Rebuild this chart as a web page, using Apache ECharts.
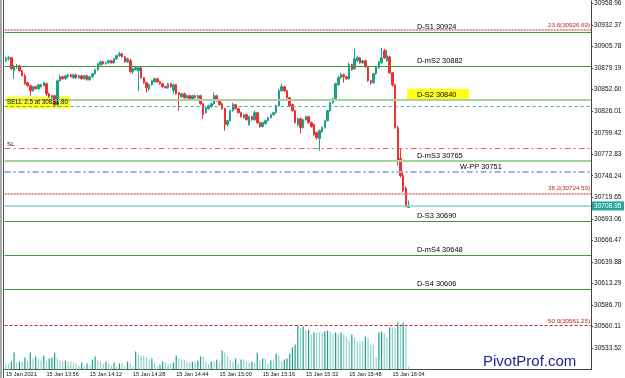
<!DOCTYPE html>
<html lang="en">
<head>
<meta charset="UTF-8">
<title>Pivot levels M1</title>
<script src="https://cdn.jsdelivr.net/npm/echarts@6/dist/echarts.min.js"></script>
<style>
  html, body { margin: 0; padding: 0; background: #fff; }
  #chart { width: 625px; height: 378px; }
</style>
</head>
<body>
<div id="chart"></div>
<script>
// ---- data ----
const opens = [
  30888.2, 30890.7, 30891.9, 30875.9, 30880.8, 30882.0, 30875.9, 30869.7, 30861.1, 30857.4,
  30851.2, 30856.2, 30853.7, 30856.2, 30857.4, 30859.9, 30847.5, 30842.6, 30845.1, 30834.0,
  30863.6, 30868.5, 30866.0, 30868.5, 30870.9, 30867.3, 30870.9, 30867.3, 30869.7, 30866.0,
  30869.7, 30864.8, 30868.5, 30872.2, 30877.1, 30883.3, 30887.0, 30884.5, 30885.7, 30888.2,
  30885.7, 30890.7, 30894.4, 30896.8, 30893.1, 30887.0, 30888.2, 30874.6, 30877.1, 30875.9,
  30879.6, 30867.3, 30861.1, 30853.7, 30858.6, 30862.3, 30866.0, 30862.3, 30859.9, 30856.2,
  30854.9, 30859.9, 30851.2, 30858.6, 30848.8, 30843.8, 30847.5, 30842.6, 30845.1, 30841.4,
  30845.1, 30842.6, 30845.1, 30835.2, 30824.1, 30829.1, 30831.5, 30835.2, 30845.1, 30838.9,
  30835.2, 30829.1, 30809.4, 30814.3, 30826.6, 30834.0, 30829.1, 30824.1, 30818.0, 30821.7,
  30809.4, 30819.2, 30815.5, 30824.1, 30811.8, 30806.9, 30810.6, 30814.3, 30818.0, 30821.7,
  30824.1, 30832.8, 30851.2, 30856.2, 30851.2, 30842.6, 30834.0, 30826.6, 30809.4, 30816.7,
  30805.7, 30815.5, 30819.2, 30811.8, 30809.4, 30799.5, 30792.1, 30800.7, 30805.7, 30814.3,
  30826.6, 30836.5, 30841.4, 30858.6, 30867.3, 30870.9, 30868.5, 30866.0, 30883.3, 30878.3,
  30888.2, 30891.9, 30885.7, 30888.2, 30880.8, 30863.6, 30861.1, 30872.2, 30879.6, 30885.7,
  30900.5, 30888.2, 30893.1, 30873.4, 30858.6, 30805.7, 30767.5, 30746.5, 30730.5, 30707.1
];
const closes = [
  30890.7, 30891.9, 30878.3, 30880.8, 30882.0, 30875.9, 30869.7, 30859.9, 30857.4, 30851.2,
  30856.2, 30853.7, 30858.6, 30858.6, 30861.1, 30847.5, 30843.8, 30845.1, 30834.0, 30863.6,
  30868.5, 30866.0, 30869.7, 30870.9, 30868.5, 30870.9, 30867.3, 30869.7, 30866.0, 30869.7,
  30864.8, 30868.5, 30872.2, 30877.1, 30884.5, 30887.0, 30884.5, 30885.7, 30888.2, 30885.7,
  30890.7, 30894.4, 30896.8, 30893.1, 30887.0, 30890.7, 30874.6, 30878.3, 30879.6, 30879.6,
  30867.3, 30861.1, 30854.9, 30858.6, 30863.6, 30866.0, 30862.3, 30859.9, 30856.2, 30854.9,
  30859.9, 30856.2, 30858.6, 30847.5, 30846.3, 30847.5, 30842.6, 30845.1, 30841.4, 30845.1,
  30842.6, 30845.1, 30835.2, 30821.7, 30830.3, 30832.8, 30835.2, 30845.1, 30838.9, 30834.0,
  30829.1, 30809.4, 30814.3, 30826.6, 30834.0, 30829.1, 30824.1, 30819.2, 30821.7, 30815.5,
  30819.2, 30815.5, 30824.1, 30811.8, 30806.9, 30811.8, 30814.3, 30818.0, 30821.7, 30824.1,
  30832.8, 30851.2, 30856.2, 30851.2, 30842.6, 30832.8, 30826.6, 30811.8, 30816.7, 30805.7,
  30815.5, 30819.2, 30811.8, 30806.9, 30797.0, 30793.3, 30802.0, 30805.7, 30814.3, 30826.6,
  30836.5, 30841.4, 30859.9, 30867.3, 30870.9, 30868.5, 30866.0, 30883.3, 30877.1, 30890.7,
  30891.9, 30885.7, 30888.2, 30880.8, 30863.6, 30861.1, 30872.2, 30880.8, 30887.0, 30891.9,
  30891.9, 30894.4, 30873.4, 30858.6, 30805.7, 30765.0, 30746.5, 30728.1, 30708.3, 30708.95
];
const lows = [
  30887.0, 30888.2, 30877.1, 30866.0, 30878.3, 30874.6, 30868.5, 30858.6, 30856.2, 30845.1,
  30850.0, 30852.5, 30852.5, 30854.9, 30856.2, 30845.1, 30842.6, 30841.4, 30831.5, 30831.5,
  30862.3, 30864.8, 30864.8, 30867.3, 30867.3, 30866.0, 30866.0, 30866.0, 30864.8, 30864.8,
  30863.6, 30863.6, 30867.3, 30870.9, 30875.9, 30882.0, 30883.3, 30883.3, 30884.5, 30884.5,
  30884.5, 30889.4, 30893.1, 30891.9, 30885.7, 30885.7, 30873.4, 30872.2, 30875.9, 30851.2,
  30866.0, 30859.9, 30848.8, 30851.2, 30857.4, 30861.1, 30861.1, 30858.6, 30854.9, 30853.7,
  30853.7, 30854.9, 30847.5, 30846.3, 30826.6, 30842.6, 30841.4, 30841.4, 30840.2, 30840.2,
  30841.4, 30841.4, 30834.0, 30816.7, 30822.9, 30827.8, 30830.3, 30834.0, 30837.7, 30832.8,
  30827.8, 30802.0, 30806.9, 30813.1, 30825.4, 30827.8, 30822.9, 30818.0, 30816.7, 30814.3,
  30808.1, 30814.3, 30814.3, 30810.6, 30805.7, 30805.7, 30809.4, 30813.1, 30816.7, 30820.4,
  30822.9, 30831.5, 30850.0, 30850.0, 30841.4, 30831.5, 30825.4, 30810.6, 30806.9, 30798.3,
  30804.4, 30814.3, 30810.6, 30805.7, 30795.8, 30790.9, 30777.3, 30799.5, 30804.4, 30813.1,
  30825.4, 30835.2, 30840.2, 30857.4, 30866.0, 30861.1, 30864.8, 30864.8, 30875.9, 30877.1,
  30887.0, 30884.5, 30884.5, 30879.6, 30862.3, 30858.6, 30859.9, 30870.9, 30878.3, 30884.5,
  30890.7, 30887.0, 30872.2, 30856.2, 30804.4, 30758.9, 30744.1, 30725.6, 30707.1, 30707.1
];
const highs = [
  30893.1, 30894.4, 30893.1, 30883.3, 30884.5, 30883.3, 30877.1, 30872.2, 30862.3, 30858.6,
  30857.4, 30857.4, 30859.9, 30859.9, 30862.3, 30861.1, 30848.8, 30846.3, 30846.3, 30864.8,
  30870.9, 30869.7, 30870.9, 30872.2, 30872.2, 30872.2, 30872.2, 30870.9, 30870.9, 30870.9,
  30870.9, 30869.7, 30873.4, 30878.3, 30885.7, 30888.2, 30888.2, 30887.0, 30889.4, 30889.4,
  30891.9, 30895.6, 30899.3, 30898.0, 30894.4, 30891.9, 30890.7, 30879.6, 30880.8, 30880.8,
  30880.8, 30868.5, 30862.3, 30859.9, 30864.8, 30867.3, 30867.3, 30863.6, 30861.1, 30857.4,
  30861.1, 30861.1, 30859.9, 30859.9, 30850.0, 30848.8, 30848.8, 30846.3, 30846.3, 30846.3,
  30846.3, 30846.3, 30846.3, 30836.5, 30831.5, 30834.0, 30836.5, 30848.8, 30846.3, 30840.2,
  30836.5, 30830.3, 30815.5, 30827.8, 30836.5, 30835.2, 30830.3, 30825.4, 30822.9, 30822.9,
  30820.4, 30820.4, 30826.6, 30825.4, 30813.1, 30813.1, 30815.5, 30819.2, 30822.9, 30825.4,
  30834.0, 30853.7, 30859.9, 30857.4, 30852.5, 30843.8, 30835.2, 30827.8, 30818.0, 30818.0,
  30816.7, 30820.4, 30820.4, 30813.1, 30810.6, 30800.7, 30803.2, 30806.9, 30815.5, 30827.8,
  30837.7, 30842.6, 30861.1, 30869.7, 30873.4, 30872.2, 30869.7, 30885.7, 30884.5, 30903.0,
  30894.4, 30893.1, 30889.4, 30889.4, 30882.0, 30864.8, 30873.4, 30882.0, 30888.2, 30904.2,
  30903.0, 30901.7, 30894.4, 30874.6, 30859.9, 30808.1, 30779.8, 30752.7, 30733.0, 30715.7
];
const volumes = [
  60, 60, 80, 170, 70, 80, 80, 120, 80, 170,
  110, 130, 110, 90, 140, 80, 110, 120, 170, 120,
  90, 80, 90, 80, 80, 70, 60, 40, 70, 30,
  60, 40, 100, 130, 90, 80, 60, 80, 60, 40,
  70, 30, 60, 60, 30, 80, 60, 30, 180, 150,
  140, 140, 120, 100, 110, 70, 30, 50, 80, 70,
  60, 60, 70, 140, 110, 100, 100, 70, 70, 80,
  80, 90, 130, 130, 80, 50, 80, 80, 100, 70,
  190, 170, 130, 100, 80, 110, 60, 100, 100, 80,
  70, 80, 70, 170, 90, 110, 110, 60, 90, 90,
  160, 140, 80, 100, 110, 160, 220, 250, 440, 410,
  430, 390, 400, 350, 370, 370, 370, 370, 380, 390,
  380, 360, 370, 350, 370, 350, 330, 290, 350, 320,
  280, 280, 280, 330, 320, 250, 250, 120, 370, 380,
  360, 320, 420, 420, 420, 470, 450, 470, 430, 30
];

const firstMinute = 13 * 60 + 41;      // first bar 13:41
const slotCount = 217;                  // bars that fit across the chart
const tickLabels = ['15 Jan 2021', '15 Jan 13:56', '15 Jan 14:12', '15 Jan 14:28', '15 Jan 14:44',
  '15 Jan 15:00', '15 Jan 15:16', '15 Jan 15:32', '15 Jan 15:48', '15 Jan 16:04'];
const yTicks = [30533.52, 30560.11, 30586.70, 30613.29, 30639.88, 30666.47, 30693.06, 30719.65,
  30746.24, 30772.83, 30799.42, 30826.01, 30852.60, 30879.19, 30905.78, 30932.37, 30958.96];
const yMin = 30506.93, yMax = 30962.1;

const levelNames = ['D-S1', 'D-mS2', 'D-S2', 'D-mS3', 'D-S3', 'D-mS4', 'D-S4'];
const levelValues = [30924, 30882, 30840, 30765, 30690, 30648, 30606];
const fibRatios = [23.6, 38.2, 50.0];
const fibValues = [30926.69, 30724.59, 30561.25];
const wppValue = 30751;
const slValue = 30780.5;
const entryValue = 30831.80;
const entryText = 'SELL 2.5 at 30831.80';
const bidValue = 30708.95;

// ---- chart ----
const FONT = '"Liberation Sans", Arial, sans-serif';
const UP = '#1f9e8a', DOWN = '#ee3030';

const categories = [];
for (let i = 0; i < slotCount; i++) {
  const m = firstMinute + i;
  categories.push(String(Math.floor(m / 60)).padStart(2, '0') + ':' + String(m % 60).padStart(2, '0'));
}
function tickIndex(i) {
  if (i === 0) return 0;
  if (i >= 15 && (i - 15) % 16 === 0) {
    const k = (i - 15) / 16 + 1;
    return k < tickLabels.length ? k : -1;
  }
  return -1;
}

const ohlc = opens.map((o, i) => [o, closes[i], lows[i], highs[i]]);
const volData = volumes.map((v, i) => ({
  value: v,
  itemStyle: { color: i > 0 && v > volumes[i - 1] ? '#1f9e8a' : '#8fd3c8' }
}));

const lightLevels = ['D-S2', 'D-mS3'];
const lines = [];
levelNames.forEach((n, i) => {
  const light = lightLevels.indexOf(n) >= 0;
  lines.push({ yAxis: levelValues[i], lineStyle: { color: light ? '#a5d29d' : '#3d973d', width: light ? 2 : 1, type: 'solid' } });
});
fibValues.forEach((v, i) => {
  lines.push(i < 2
    ? { yAxis: v, lineStyle: { color: '#dc9494', width: 2, type: [2, 1] } }
    : { yAxis: v, lineStyle: { color: '#c42a2a', width: 1, type: [3, 2] } });
});
lines.push({ yAxis: wppValue, lineStyle: { color: '#94b3f3', width: 2, type: [6, 3, 2, 3] } });
lines.push({ yAxis: slValue, lineStyle: { color: '#e2685e', width: 1.2, type: [6, 3, 2, 3] } });
lines.push({ yAxis: entryValue, lineStyle: { color: '#3aa8a6', width: 1, type: [3, 3] } });
lines.push({ yAxis: bidValue, lineStyle: { color: '#88d5ca', width: 1.5, type: 'solid' } });

const chart = echarts.init(document.getElementById('chart'));
chart.setOption({
  animation: false,
  backgroundColor: '#fff',
  grid: [
    { left: 4.6, right: 34, top: 0, bottom: 8.5 },
    { left: 4.6, right: 34, top: 319.5, bottom: 8.5 }
  ],
  xAxis: [{
    type: 'category',
    data: categories,
    boundaryGap: true,
    axisLine: { lineStyle: { color: '#444', width: 1 } },
    axisTick: { alignWithLabel: true, length: 3, interval: i => tickIndex(i) > 0, lineStyle: { color: '#444' } },
    axisLabel: {
      interval: i => tickIndex(i) >= 0,
      formatter: (v, i) => tickIndex(i) >= 0 ? tickLabels[tickIndex(i)] : '',
      fontSize: 5.6, fontFamily: FONT, color: '#111', align: 'left', margin: 2
    },
    splitLine: { show: false }
  }, {
    type: 'category', gridIndex: 1, data: categories, boundaryGap: true, show: false
  }],
  yAxis: [{
    type: 'value',
    position: 'right',
    min: yMin, max: yMax,
    axisLine: { show: true, lineStyle: { color: '#444', width: 1 } },
    axisTick: { show: true, length: 2, customValues: yTicks, lineStyle: { color: '#444' } },
    axisLabel: {
      customValues: yTicks, formatter: v => v.toFixed(2),
      fontSize: 6.6, fontFamily: FONT, color: '#111', margin: 3
    },
    splitLine: { show: false }
  }, {
    type: 'value', gridIndex: 1, min: 0, max: 500, show: false
  }],
  series: [{
    type: 'candlestick',
    data: ohlc,
    barWidth: 2,
    itemStyle: { color: UP, color0: DOWN, borderColor: UP, borderColor0: DOWN, borderWidth: 1 },
    markLine: { silent: true, symbol: ['none', 'none'], label: { show: false }, data: lines }
  }, {
    type: 'bar',
    xAxisIndex: 1, yAxisIndex: 1,
    data: volData,
    barWidth: 1.2
  }]
});

// ---- labels and decorations placed from the price axis ----
const py = v => chart.convertToPixel({ yAxisIndex: 0 }, v);
const g = [];
function txt(x, y, s, size, color, align) {
  g.push({ type: 'text', x: x, y: y, z: 100, style: {
    text: s, fontSize: size, fontFamily: FONT, fill: color,
    align: align || 'left', textAlign: align || 'left', verticalAlign: 'middle', textVerticalAlign: 'middle'
  } });
}
// left frame
g.push({ type: 'line', shape: { x1: 1, y1: 0, x2: 1, y2: 378 }, style: { stroke: '#555', lineWidth: 1 } });
g.push({ type: 'line', shape: { x1: 3.5, y1: 0, x2: 3.5, y2: 378 }, style: { stroke: '#555', lineWidth: 1 } });
// highlights
const s2y = py(levelValues[2]);
g.push({ type: 'rect', z: 0, shape: { x: 407, y: s2y - 11, width: 62, height: 11 }, style: { fill: '#ffff1a' } });
const ey = py(entryValue);
g.push({ type: 'rect', z: 0, shape: { x: 6, y: ey - 10, width: 64, height: 12 }, style: { fill: '#ffff1a' } });
levelNames.forEach((n, i) => txt(417, py(levelValues[i]) - 5, n + ' ' + levelValues[i], 7.4, '#000'));
txt(460, py(wppValue) - 5, 'W-PP ' + wppValue, 7.4, '#000');
fibValues.forEach((v, i) => txt(590, py(v) - 4.5, fibRatios[i].toFixed(1) + '(' + v.toFixed(2) + ')', 6.2, '#b81f1f', 'right'));
txt(7, py(slValue) - 4, 'SL', 6.2, '#222');
txt(7, ey - 4, entryText, 6.3, '#111');
// bid price tag
const by = py(bidValue);
g.push({ type: 'rect', z: 100, shape: { x: 592, y: by - 4.5, width: 32, height: 9 }, style: { fill: '#26a69a' } });
txt(594, by, bidValue.toFixed(2), 6.6, '#fff');
// watermark
g.push({ type: 'text', x: 483, y: 362, z: 100, style: {
  text: 'PivotProf.com', fontSize: 15, fontFamily: FONT, fill: '#23238f',
  verticalAlign: 'middle', textVerticalAlign: 'middle'
} });
chart.setOption({ graphic: g });
</script>
</body>
</html>
